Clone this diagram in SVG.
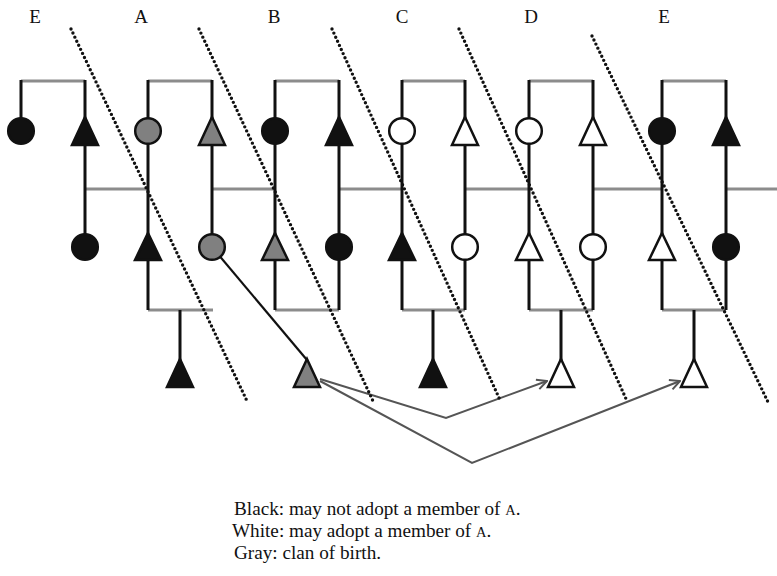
<svg xmlns="http://www.w3.org/2000/svg" width="777" height="576" viewBox="0 0 777 576">
<style>
.g{stroke:#8c8c8c;stroke-width:3;fill:none}
.k{stroke:#111;stroke-width:3;fill:none}
.dot{stroke:#111;stroke-width:3.4;stroke-dasharray:0 4.5;stroke-linecap:round;fill:none}
.arr{stroke:#555;stroke-width:2;fill:none}
.sb{fill:#111;stroke:#111;stroke-width:2.5}
.sg{fill:#808080;stroke:#111;stroke-width:2.5}
.sw{fill:#fff;stroke:#111;stroke-width:2.5}
.lbl{font-family:"Liberation Serif",serif;font-size:19px;fill:#111;text-anchor:middle}
.cap{font-family:"Liberation Serif",serif;font-size:19.2px;fill:#111}
</style>
<defs>
<marker id="ah" viewBox="0 0 12 12" refX="11" refY="6" markerWidth="12" markerHeight="12" markerUnits="userSpaceOnUse" orient="auto">
<path d="M1,1 L11,6 L1,11" fill="none" stroke="#555" stroke-width="2"/>
</marker>
</defs>
<g id="labels">
<text class="lbl" x="35" y="23">E</text>
<text class="lbl" x="141" y="23">A</text>
<text class="lbl" x="274" y="23">B</text>
<text class="lbl" x="402" y="23">C</text>
<text class="lbl" x="531" y="23">D</text>
<text class="lbl" x="664" y="23">E</text>
</g>
<g id="connectors">
<path class="g" d="M21,81H85M148,81H212M275,81H339M402,81H465M529,81H593M662,81H726"/>
<path class="g" d="M85,189H148M212,189H275M339,189H402M465,189H529M593,189H662M726,189H777"/>
<path class="g" d="M148,310H213M275,310H339M402,310H465M529,310H593M662,310H726"/>
<path class="k" d="M21,80V131M85,80V247M148,80V310M212,80V247M275,80V310M339,80V310M402,80V310M465,80V310M529,80V310M593,80V310M662,80V310M726,80V310"/>
<path class="k" d="M180,310V362M433,310V362M561,310V362M694,310V362"/>
<path d="M212,247L307,360" stroke="#111" stroke-width="2.2" fill="none"/>
<path class="arr" d="M320,379L446,418L547,381" marker-end="url(#ah)"/>
<path class="arr" d="M320,381L472,463L680,381" marker-end="url(#ah)"/>
</g>
<g id="dividers">
<path class="dot" d="M71,29L247,401"/>
<path class="dot" d="M199,29L373,401"/>
<path class="dot" d="M332,29L500,400"/>
<path class="dot" d="M459,29L627,401"/>
<path class="dot" d="M592,36L768,402"/>
</g>
<g id="top-row">
<circle id="n-E1-f" class="sb" cx="21" cy="131" r="12.8"/>
<path id="n-E1-m" class="sb" d="M85,117L98,145H72Z"/>
<circle id="n-A-f" class="sg" cx="148" cy="131" r="12.8"/>
<path id="n-A-m" class="sg" d="M212,117L225,145H199Z"/>
<circle id="n-B-f" class="sb" cx="275" cy="131" r="12.8"/>
<path id="n-B-m" class="sb" d="M339,117L352,145H326Z"/>
<circle id="n-C-f" class="sw" cx="402" cy="131" r="12.8"/>
<path id="n-C-m" class="sw" d="M465,117L478,145H452Z"/>
<circle id="n-D-f" class="sw" cx="529" cy="131" r="12.8"/>
<path id="n-D-m" class="sw" d="M593,117L606,145H580Z"/>
<circle id="n-E2-f" class="sb" cx="662" cy="131" r="12.8"/>
<path id="n-E2-m" class="sb" d="M726,117L739,145H713Z"/>
</g>
<g id="middle-row">
<circle id="m1" class="sb" cx="85" cy="247" r="12.8"/>
<path id="m2" class="sb" d="M148,233L161,260H135Z"/>
<circle id="m3" class="sg" cx="212" cy="247" r="12.8"/>
<path id="m4" class="sg" d="M275,233L288,260H262Z"/>
<circle id="m5" class="sb" cx="339" cy="247" r="12.8"/>
<path id="m6" class="sb" d="M402,233L415,260H389Z"/>
<circle id="m7" class="sw" cx="465" cy="247" r="12.8"/>
<path id="m8" class="sw" d="M529,233L542,260H516Z"/>
<circle id="m9" class="sw" cx="593" cy="247" r="12.8"/>
<path id="m10" class="sw" d="M662,233L675,260H649Z"/>
<circle id="m11" class="sb" cx="726" cy="247" r="12.8"/>
</g>
<g id="bottom-row">
<path id="c1" class="sb" d="M180,359L193,387H167Z"/>
<path id="c2" class="sg" d="M307,359L320,387H294Z"/>
<path id="c3" class="sb" d="M433,359L446,387H420Z"/>
<path id="c4" class="sw" d="M561,359L574,387H548Z"/>
<path id="c5" class="sw" d="M694,359L707,387H681Z"/>
</g>
<g id="legend">
<text class="cap" x="234" y="515">Black: may not adopt a member of <tspan font-size="14.5">A</tspan>.</text>
<text class="cap" x="232" y="537">White: may adopt a member of <tspan font-size="14.5">A</tspan>.</text>
<text class="cap" x="234" y="559">Gray: clan of birth.</text>
</g>
</svg>
